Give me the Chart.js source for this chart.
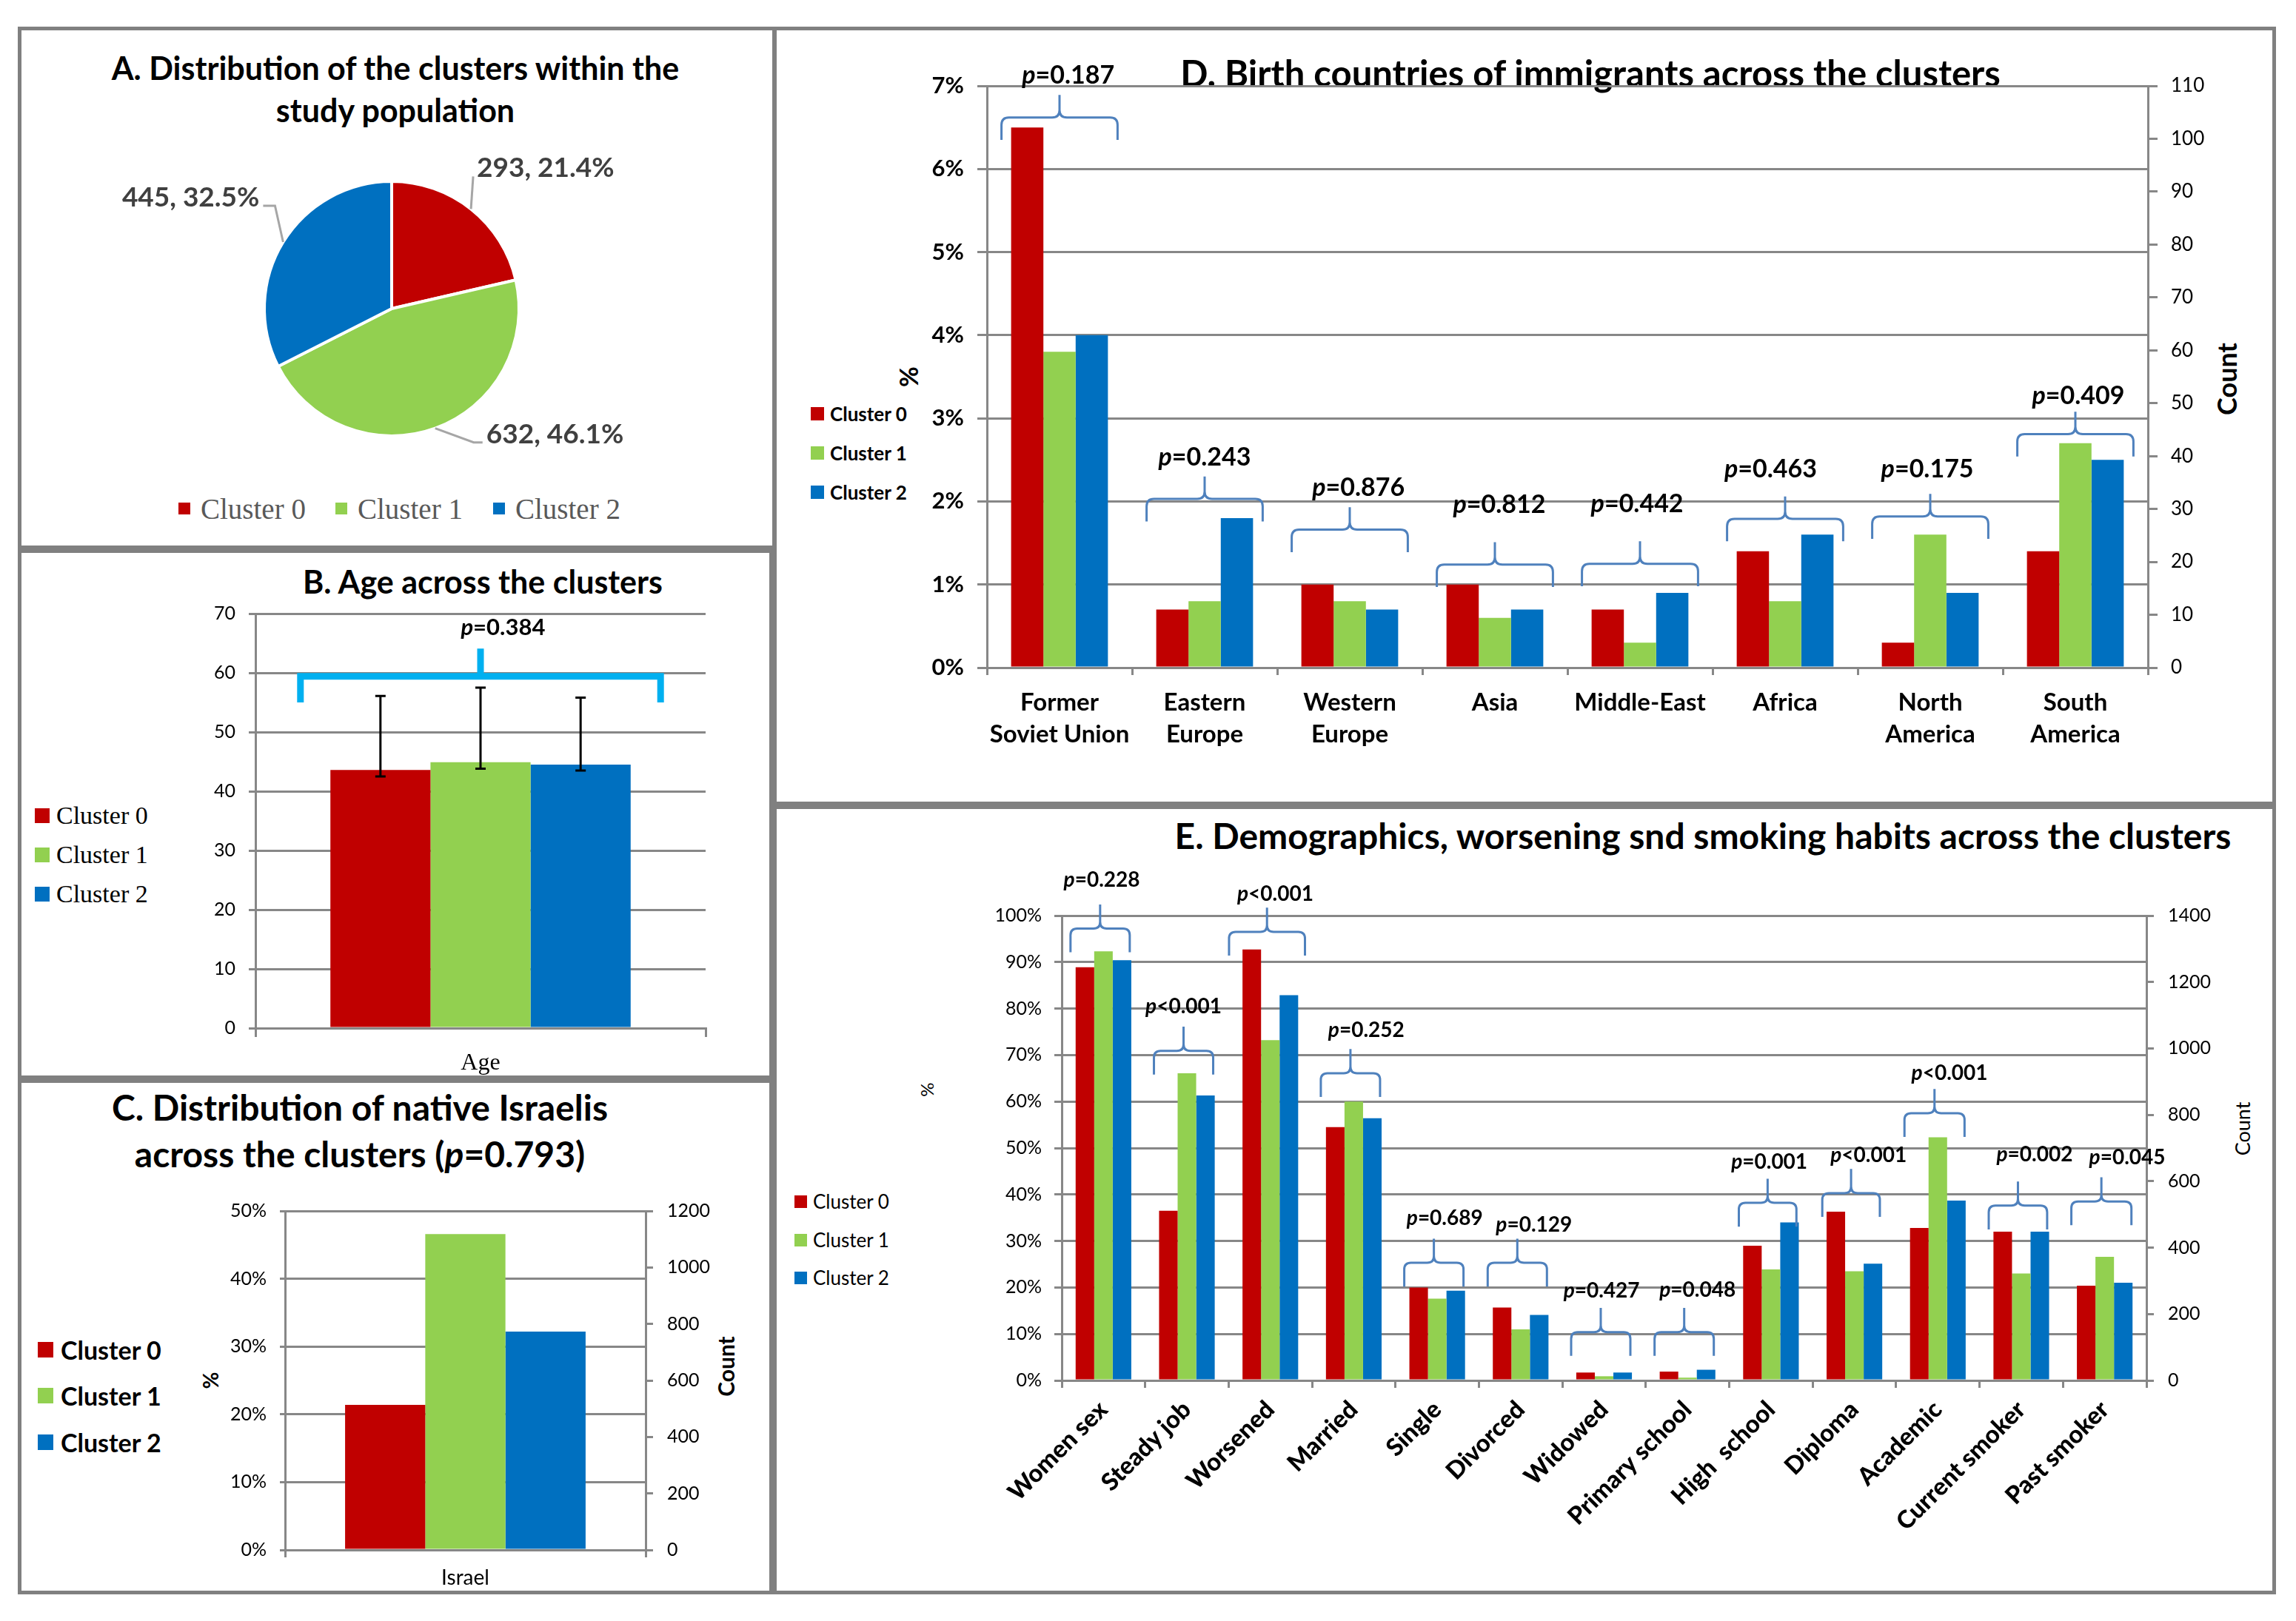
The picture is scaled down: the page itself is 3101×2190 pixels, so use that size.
<!DOCTYPE html>
<html>
<head>
<meta charset="utf-8">
<script src="https://cdn.jsdelivr.net/npm/chart.js@4.4.1/dist/chart.umd.min.js"></script>
<style>
body { margin: 0; background: #fff; width: 3101px; height: 2190px; position: relative; overflow: hidden; font-family: Lato, "Open Sans", sans-serif; }
.panel { position: absolute; box-sizing: border-box; border: 5px solid #808080; }
canvas { position: absolute; }
.t { position: absolute; white-space: nowrap; color: #000; }
.title { font-weight: bold; text-align: center; transform: translateX(-50%); }
.rot { transform: translate(-50%, -50%) rotate(-90deg); }
.sw { position: absolute; }
.lt { position: absolute; white-space: nowrap; transform: translateY(-50%); }
</style>
</head>
<body>

<div class="panel" style="left:24px;top:36px;width:1024px;height:706px"></div>
<div class="panel" style="left:24px;top:742px;width:1020px;height:716px"></div>
<div class="panel" style="left:24px;top:1458px;width:1020px;height:696px"></div>
<div class="panel" style="left:1044px;top:36px;width:2030px;height:1052px"></div>
<div class="panel" style="left:1044px;top:1088px;width:2030px;height:1066px"></div>

<div class="t title" style="left:534px;top:63px;font-size:43px;line-height:57px">A. Distribution of the clusters within the<br>study population</div>
<div class="t title" style="left:652px;top:761px;font-size:43px;line-height:50px">B. Age across the clusters</div>
<div class="t title" style="left:486px;top:1464px;font-size:48px;line-height:63px">C. Distribution of native Israelis<br>across the clusters (<i>p</i>=0.793)</div>
<div class="t title" style="left:2148px;top:70px;font-size:49px;line-height:56px">D. Birth countries of immigrants across the clusters</div>
<div class="t title" style="left:2300px;top:1101px;font-size:48px;line-height:56px">E. Demographics, worsening snd smoking habits across the clusters</div>

<div class="t rot" style="left:284px;top:1865px;font-size:28px;font-weight:bold">%</div>
<div class="t rot" style="left:980px;top:1846px;font-size:30px;font-weight:bold">Count</div>
<div class="t rot" style="left:1226px;top:509px;font-size:34px;font-weight:bold">%</div>
<div class="t rot" style="left:3007px;top:512px;font-size:36px;font-weight:bold">Count</div>
<div class="t rot" style="left:1251px;top:1472px;font-size:24px">%</div>
<div class="t rot" style="left:3028px;top:1525px;font-size:27px">Count</div>

<div id="legends"></div>

<canvas id="cA" width="1024" height="706" style="left:24px;top:36px"></canvas>
<canvas id="cB" width="1020" height="716" style="left:24px;top:742px"></canvas>
<canvas id="cC" width="1020" height="696" style="left:24px;top:1458px"></canvas>
<canvas id="cD" width="2030" height="1052" style="left:1044px;top:36px"></canvas>
<canvas id="cE" width="2030" height="1066" style="left:1044px;top:1088px"></canvas>

<script>
// ---------- data ----------
const clusters = ["Cluster 0", "Cluster 1", "Cluster 2"];
const colors = ["#c00000", "#92d050", "#0070c0"];

// A. pie
const pieCounts = [293, 632, 445];
const piePercents = [21.4, 46.1, 32.5];

// B. age (mean with lower / upper whisker)
const ageLabels = ["Age"];
const ageMean = [43.6, 44.9, 44.5];
const ageLow = [42.5, 43.8, 43.5];
const ageHigh = [56.1, 57.5, 55.8];
const ageP = ["=0.384"];

// C. native Israelis (%)
const israelLabels = ["Israel"];
const israelPct = [21.4, 46.6, 32.2];

// D. birth countries (%)
const countries = [["Former", "Soviet Union"], ["Eastern", "Europe"], ["Western", "Europe"], "Asia", "Middle-East", "Africa", ["North", "America"], ["South", "America"]];
const countryC0 = [6.5, 0.7, 1.0, 1.0, 0.7, 1.4, 0.3, 1.4];
const countryC1 = [3.8, 0.8, 0.8, 0.6, 0.3, 0.8, 1.6, 2.7];
const countryC2 = [4.0, 1.8, 0.7, 0.7, 0.9, 1.6, 0.9, 2.5];
const countryP = ["=0.187", "=0.243", "=0.876", "=0.812", "=0.442", "=0.463", "=0.175", "=0.409"];

// E. demographics (%)
const traits = ["Women sex", "Steady job", "Worsened", "Married", "Single", "Divorced", "Widowed", "Primary school", "High  school", "Diploma", "Academic", "Current smoker", "Past smoker"];
const traitC0 = [88.9, 36.5, 92.7, 54.5, 20.0, 15.7, 1.7, 1.9, 29.0, 36.3, 32.8, 32.0, 20.4];
const traitC1 = [92.3, 66.1, 73.2, 60.0, 17.6, 11.0, 0.9, 0.6, 23.9, 23.5, 52.3, 23.0, 26.6];
const traitC2 = [90.4, 61.3, 82.9, 56.4, 19.3, 14.1, 1.7, 2.3, 34.0, 25.1, 38.7, 32.0, 21.0];
const traitP = ["=0.228", "<0.001", "<0.001", "=0.252", "=0.689", "=0.129", "=0.427", "=0.048", "=0.001", "<0.001", "<0.001", "=0.002", "=0.045"];

// ---------- helpers ----------
const FAM = 'Lato, "Open Sans", sans-serif';
const grey = "#878787";
Chart.defaults.font.family = FAM;
Chart.defaults.color = "#000";

const fixW = w => s => { s.width = w; };
const fixH = h => s => { s.height = h; };

function drawP(ctx, rest, xc, y, size) {
    ctx.font = "italic bold " + size + "px " + FAM;
    const w1 = ctx.measureText("p").width;
    ctx.font = "bold " + size + "px " + FAM;
    const w2 = ctx.measureText(rest).width;
    const x = xc - (w1 + w2) / 2;
    ctx.textAlign = "left";
    ctx.textBaseline = "middle";
    ctx.fillStyle = "#000";
    ctx.font = "italic bold " + size + "px " + FAM;
    ctx.fillText("p", x, y);
    ctx.font = "bold " + size + "px " + FAM;
    ctx.fillText(rest, x + w1, y);
}

// curly brackets with p values above each category group
const bracketPlugin = {
    id: "brackets",
    afterDatasetsDraw(chart, args, o) {
        const ctx = chart.ctx;
        const xs = chart.scales.x;
        const ys = chart.scales.y;
        ctx.save();
        ctx.strokeStyle = o.color;
        ctx.lineWidth = o.lineWidth;
        o.levels.forEach((lv, i) => {
            const half = o.halfWidths ? o.halfWidths[i] : o.halfWidth;
            const c = i + o.shift;
            const xL = xs.getPixelForValue(c - half);
            const xR = xs.getPixelForValue(c + half);
            const xc = (xL + xR) / 2;
            const yl = ys.getPixelForValue(lv);
            const ye = ys.getPixelForValue(lv - o.drop);
            const yt = ys.getPixelForValue(lv + o.rise);
            const r = o.radius;
            ctx.beginPath();
            ctx.moveTo(xL, ye);
            ctx.lineTo(xL, yl + r);
            ctx.quadraticCurveTo(xL, yl, xL + r, yl);
            ctx.lineTo(xc - r, yl);
            ctx.quadraticCurveTo(xc, yl, xc, yl - r);
            ctx.lineTo(xc, yt);
            ctx.moveTo(xc, yl - r);
            ctx.quadraticCurveTo(xc, yl, xc + r, yl);
            ctx.lineTo(xR - r, yl);
            ctx.quadraticCurveTo(xR, yl, xR, yl + r);
            ctx.lineTo(xR, ye);
            ctx.stroke();
            const xlab = xs.getPixelForValue(i + o.labelDx[i]);
            drawP(ctx, o.texts[i], xlab, ys.getPixelForValue(o.labelLevels[i]), o.size);
        });
        ctx.restore();
    }
};

const errorBarPlugin = {
    id: "errorBars",
    afterDatasetsDraw(chart, args, o) {
        const ctx = chart.ctx;
        const ys = chart.scales.y;
        ctx.save();
        ctx.strokeStyle = "#000";
        ctx.lineWidth = 3;
        chart.data.datasets.forEach((ds, i) => {
            const bar = chart.getDatasetMeta(i).data[0];
            const top = ys.getPixelForValue(o.high[i]);
            const bot = ys.getPixelForValue(o.low[i]);
            ctx.beginPath();
            ctx.moveTo(bar.x, top); ctx.lineTo(bar.x, bot);
            ctx.moveTo(bar.x - 7, top); ctx.lineTo(bar.x + 7, top);
            ctx.moveTo(bar.x - 7, bot); ctx.lineTo(bar.x + 7, bot);
            ctx.stroke();
        });
        ctx.restore();
    }
};

const pieLabelPlugin = {
    id: "pieLabels",
    afterDatasetsDraw(chart, args, o) {
        const ctx = chart.ctx;
        ctx.save();
        chart.getDatasetMeta(0).data.forEach((arc, i) => {
            const mid = (arc.startAngle + arc.endAngle) / 2;
            const ex = arc.x + Math.cos(mid) * arc.outerRadius;
            const ey = arc.y + Math.sin(mid) * arc.outerRadius;
            const [dx, dy, side, h] = o.elbows[i];
            const bx = ex + dx, by = ey + dy;
            const tx = bx + side * h;
            ctx.strokeStyle = "#a6a6a6";
            ctx.lineWidth = 3;
            ctx.beginPath();
            ctx.moveTo(ex, ey); ctx.lineTo(bx, by); ctx.lineTo(tx, by);
            ctx.stroke();
            ctx.font = "bold 37px " + FAM;
            ctx.fillStyle = "#404040";
            ctx.textBaseline = "middle";
            ctx.textAlign = side > 0 ? "left" : "right";
            ctx.fillText(pieCounts[i] + ", " + piePercents[i].toFixed(1) + "%", tx + side * 5, by - 11);
        });
        ctx.restore();
    }
};

function legend(o) {
    const host = document.getElementById("legends");
    clusters.forEach((c, i) => {
        const x = o.xs[i], y = o.ys[i];
        const sw = document.createElement("div");
        sw.className = "sw";
        sw.style.cssText = "left:" + x + "px;top:" + (y - o.s / 2) + "px;width:" + o.s + "px;height:" + o.s + "px;background:" + colors[i];
        host.appendChild(sw);
        const t = document.createElement("div");
        t.className = "lt";
        t.textContent = c;
        t.style.cssText = "left:" + (x + o.gap) + "px;top:" + y + "px;font:" + o.font + ";color:" + o.color;
        host.appendChild(t);
    });
}

legend({ xs: [241, 453, 666], ys: [687, 687, 687], s: 16, gap: 30, font: '39px "Liberation Serif", serif', color: "#595959" });
legend({ xs: [47, 47, 47], ys: [1102, 1155, 1208], s: 20, gap: 29, font: '34px "Liberation Serif", serif', color: "#000" });
legend({ xs: [51, 51, 51], ys: [1823, 1885, 1948], s: 21, gap: 31, font: "bold 34px " + FAM, color: "#000" });
legend({ xs: [1095, 1095, 1095], ys: [559, 612, 665], s: 18, gap: 26, font: "bold 26px " + FAM, color: "#000" });
legend({ xs: [1073, 1073, 1073], ys: [1623, 1675, 1726], s: 17, gap: 25, font: "26px " + FAM, color: "#000" });

const base = { responsive: false, animation: false, devicePixelRatio: 1 };

function bars(series) {
    return clusters.map((c, i) => ({
        label: c, data: series[i], backgroundColor: colors[i],
        categoryPercentage: 0.667, barPercentage: 1
    }));
}

function catAxis(font, padding, tickLength, height, rotation) {
    return {
        grid: { drawOnChartArea: false, color: grey, lineWidth: 3, tickLength: tickLength },
        border: { color: grey, width: 3 },
        ticks: { font: font, padding: padding, autoSkip: false, minRotation: rotation, maxRotation: rotation },
        afterFit: fixH(height)
    };
}

function valAxis(min, max, step, fmt, font, tickLength, padding, width, right) {
    return {
        type: "linear",
        position: right ? "right" : "left",
        min: min, max: max,
        ticks: { stepSize: step, callback: fmt, font: font, padding: padding },
        grid: { drawOnChartArea: !right, color: grey, lineWidth: 3, tickLength: tickLength },
        border: { color: grey, width: 3 },
        afterFit: fixW(width)
    };
}

const pct = v => v + "%";
const num = v => v;

// ---------- A ----------
new Chart(document.getElementById("cA"), {
    type: "pie",
    data: { labels: clusters, datasets: [{ data: pieCounts, backgroundColor: colors, borderColor: "#fff", borderWidth: 4 }] },
    options: Object.assign({}, base, {
        layout: { padding: { left: 331, top: 207, right: 345, bottom: 151 } },
        plugins: {
            legend: { display: false }, tooltip: { enabled: false },
            pieLabels: { elbows: [[3, -44, 1, 0], [52, 19, 1, 12], [-11, -49, -1, 16]] }
        }
    }),
    plugins: [pieLabelPlugin]
});

// ---------- B ----------
new Chart(document.getElementById("cB"), {
    type: "bar",
    data: { labels: ageLabels, datasets: bars(ageMean.map(v => [v])) },
    options: Object.assign({}, base, {
        layout: { padding: { left: 0, top: 87, right: 91, bottom: 0 } },
        plugins: {
            legend: { display: false }, tooltip: { enabled: false },
            errorBars: { low: ageLow, high: ageHigh },
            brackets: { levels: [59.4], drop: 4.4, rise: 4.7, labelLevels: [67.6], texts: ageP,
                        halfWidth: 0.4, shift: 0, labelDx: [0.05], radius: 0, color: "#00b0f0", lineWidth: 9, size: 31 }
        },
        scales: {
            x: catAxis({ family: '"Liberation Serif", serif', size: 32 }, 16, 12, 69, 0),
            y: valAxis(0, 70, 10, num, { size: 25 }, 9, 18, 321, false)
        }
    }),
    plugins: [errorBarPlugin, bracketPlugin]
});

// ---------- C ----------
new Chart(document.getElementById("cC"), {
    type: "bar",
    data: { labels: israelLabels, datasets: bars(israelPct.map(v => [v])) },
    options: Object.assign({}, base, {
        layout: { padding: { left: 0, top: 178, right: 0, bottom: 0 } },
        plugins: { legend: { display: false }, tooltip: { enabled: false } },
        scales: {
            x: catAxis({ size: 28 }, 11, 10, 60, 0),
            y: valAxis(0, 50, 10, pct, { size: 25 }, 7, 18, 361, false),
            y1: valAxis(0, 1200, 200, num, { size: 25 }, 10, 19, 172, true)
        }
    })
});

// ---------- D ----------
new Chart(document.getElementById("cD"), {
    type: "bar",
    data: { labels: countries, datasets: bars([countryC0, countryC1, countryC2]) },
    options: Object.assign({}, base, {
        layout: { padding: { left: 0, top: 80, right: 0, bottom: 0 } },
        plugins: {
            legend: { display: false }, tooltip: { enabled: false },
            brackets: {
                levels: [6.62, 2.03, 1.66, 1.24, 1.25, 1.79, 1.82, 2.81],
                labelLevels: [7.12, 2.53, 2.16, 1.96, 1.97, 2.39, 2.39, 3.27],
                labelDx: [0.06, 0.0, 0.06, 0.03, -0.02, -0.1, -0.02, 0.02],
                texts: countryP, drop: 0.27, rise: 0.27, halfWidth: 0.4, shift: 0,
                radius: 10, color: "#4f81bd", lineWidth: 3, size: 34
            }
        },
        scales: {
            x: catAxis({ size: 33, weight: "bold", lineHeight: 1.3 }, 16, 10, 186, 0),
            y: valAxis(0, 7, 1, pct, { size: 31, weight: "bold" }, 13, 18, 289, false),
            y1: valAxis(0, 110, 10, num, { size: 26 }, 13, 18, 173, true)
        }
    }),
    plugins: [bracketPlugin]
});

// ---------- E ----------
new Chart(document.getElementById("cE"), {
    type: "bar",
    data: { labels: traits, datasets: bars([traitC0, traitC1, traitC2]) },
    options: Object.assign({}, base, {
        layout: { padding: { left: 0, top: 149, right: 0, bottom: 0 } },
        plugins: {
            legend: { display: false }, tooltip: { enabled: false },
            brackets: {
                levels: [97.2, 70.9, 96.5, 66.1, 25.3, 25.3, 10.4, 10.4, 38.2, 40.3, 57.5, 37.6, 38.5],
                labelLevels: [107.7, 80.4, 104.7, 75.3, 34.9, 33.5, 19.2, 19.5, 47.0, 48.4, 66.1, 48.5, 48.0],
                labelDx: [-0.02, -0.04, 0.06, 0.15, 0.09, 0.16, -0.03, 0.12, -0.02, 0.17, 0.14, 0.16, 0.27],
                texts: traitP, drop: 5.1, rise: 5.2, shift: -0.04,
                halfWidths: [0.355, 0.355, 0.455, 0.355, 0.355, 0.355, 0.355, 0.355, 0.345, 0.345, 0.36, 0.35, 0.36],
                radius: 9, color: "#4f81bd", lineWidth: 3, size: 28
            }
        },
        scales: {
            x: catAxis({ size: 33, weight: "900" }, 10, 10, 289, 45),
            y: valAxis(0, 100, 10, pct, { size: 25 }, 10, 17, 390, false),
            y1: valAxis(0, 1400, 200, num, { size: 25 }, 10, 19, 175, true)
        }
    }),
    plugins: [bracketPlugin]
});
</script>
</body>
</html>
